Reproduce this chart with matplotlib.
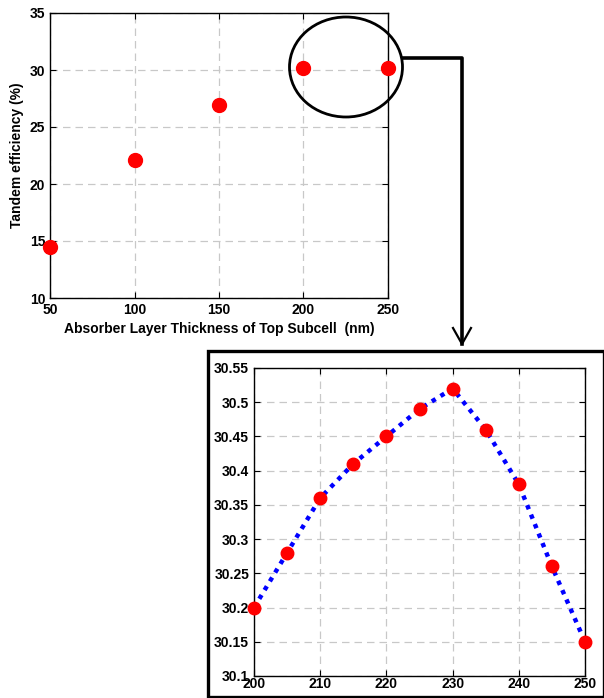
import matplotlib.pyplot as plt
from matplotlib.patches import Ellipse, Rectangle
from matplotlib.lines import Line2D

plt.rcParams['font.family'] = ['Liberation Sans', 'DejaVu Sans']
plt.rcParams['font.weight'] = 'bold'

# coarse scan
thickness = [50, 100, 150, 200, 250]
efficiency = [14.5, 22.1, 26.9, 30.2, 30.2]
main_xticks = [50, 100, 150, 200, 250]
main_yticks = [10, 15, 20, 25, 30, 35]

# fine scan (zoom)
fine_thickness = [200, 205, 210, 215, 220, 225, 230, 235, 240, 245, 250]
fine_efficiency = [30.20, 30.28, 30.36, 30.41, 30.45, 30.49, 30.52, 30.46, 30.38, 30.26, 30.15]
fine_xticks = [200, 210, 220, 230, 240, 250]
fine_yticks = [30.1, 30.15, 30.2, 30.25, 30.3, 30.35, 30.4, 30.45, 30.5, 30.55]
fine_ylabels = ['30.1', '30.15', '30.2', '30.25', '30.3', '30.35', '30.4', '30.45', '30.5', '30.55']

W, H = 604, 698
fig = plt.figure(figsize=(W / 100, H / 100), dpi=100)


def px_rect(x0, y0, x1, y1):
    return [x0 / W, 1 - y1 / H, (x1 - x0) / W, (y1 - y0) / H]


def fx(x):
    return x / W


def fy(y):
    return 1 - y / H


def style(ax):
    ax.grid(True, color='#c8c8c8', linestyle=(0, (6, 4)), linewidth=0.9)
    ax.set_axisbelow(True)
    ax.tick_params(direction='in', top=True, right=True, labelsize=10, length=4, width=0.8)
    for s in ax.spines.values():
        s.set_linewidth(1.0)
    for lbl in ax.get_xticklabels() + ax.get_yticklabels():
        lbl.set_fontweight('bold')


ax1 = fig.add_axes(px_rect(50, 13, 388, 298))
ax1.plot(thickness, efficiency, 'o', color='red', markersize=10, clip_on=False, zorder=5)
ax1.set_xlim(50, 250)
ax1.set_ylim(10, 35)
ax1.set_xticks(main_xticks)
ax1.set_yticks(main_yticks)
ax1.set_xlabel('Absorber Layer Thickness of Top Subcell  (nm)', fontsize=10, fontweight='bold', labelpad=4)
ax1.set_ylabel('Tandem efficiency (%)', fontsize=10, fontweight='bold', labelpad=4)
style(ax1)

ax2 = fig.add_axes(px_rect(254, 368, 585, 676))
ax2.plot(fine_thickness, fine_efficiency, color='blue', linestyle=(0, (1, 1.3)), linewidth=3.2, zorder=4)
ax2.plot(fine_thickness, fine_efficiency, 'o', color='red', markersize=9, clip_on=False, zorder=5)
ax2.set_xlim(200, 250)
ax2.set_ylim(30.1, 30.55)
ax2.set_xticks(fine_xticks)
ax2.set_yticks(fine_yticks)
ax2.set_yticklabels(fine_ylabels)
ax2.tick_params(axis='x', pad=1)
style(ax2)

# frame around zoomed plot
fig.add_artist(Rectangle((fx(208), fy(697)), fx(604) - fx(208), fy(351) - fy(697),
                         fill=False, edgecolor='black', linewidth=2.4, transform=fig.transFigure))

# ellipse marking the zoomed region
fig.add_artist(Ellipse((fx(346), fy(67)), fx(113), 100 / H, fill=False,
                       edgecolor='black', linewidth=2.0, transform=fig.transFigure, zorder=10))

# connector
fig.add_artist(Line2D([fx(403), fx(462), fx(462)], [fy(58), fy(58), fy(344)],
                      color='black', linewidth=2.6, transform=fig.transFigure))
fig.add_artist(Line2D([fx(453), fx(462), fx(471)], [fy(328), fy(344), fy(328)],
                      color='black', linewidth=1.6, transform=fig.transFigure))

fig.savefig('out.png', dpi=100)
